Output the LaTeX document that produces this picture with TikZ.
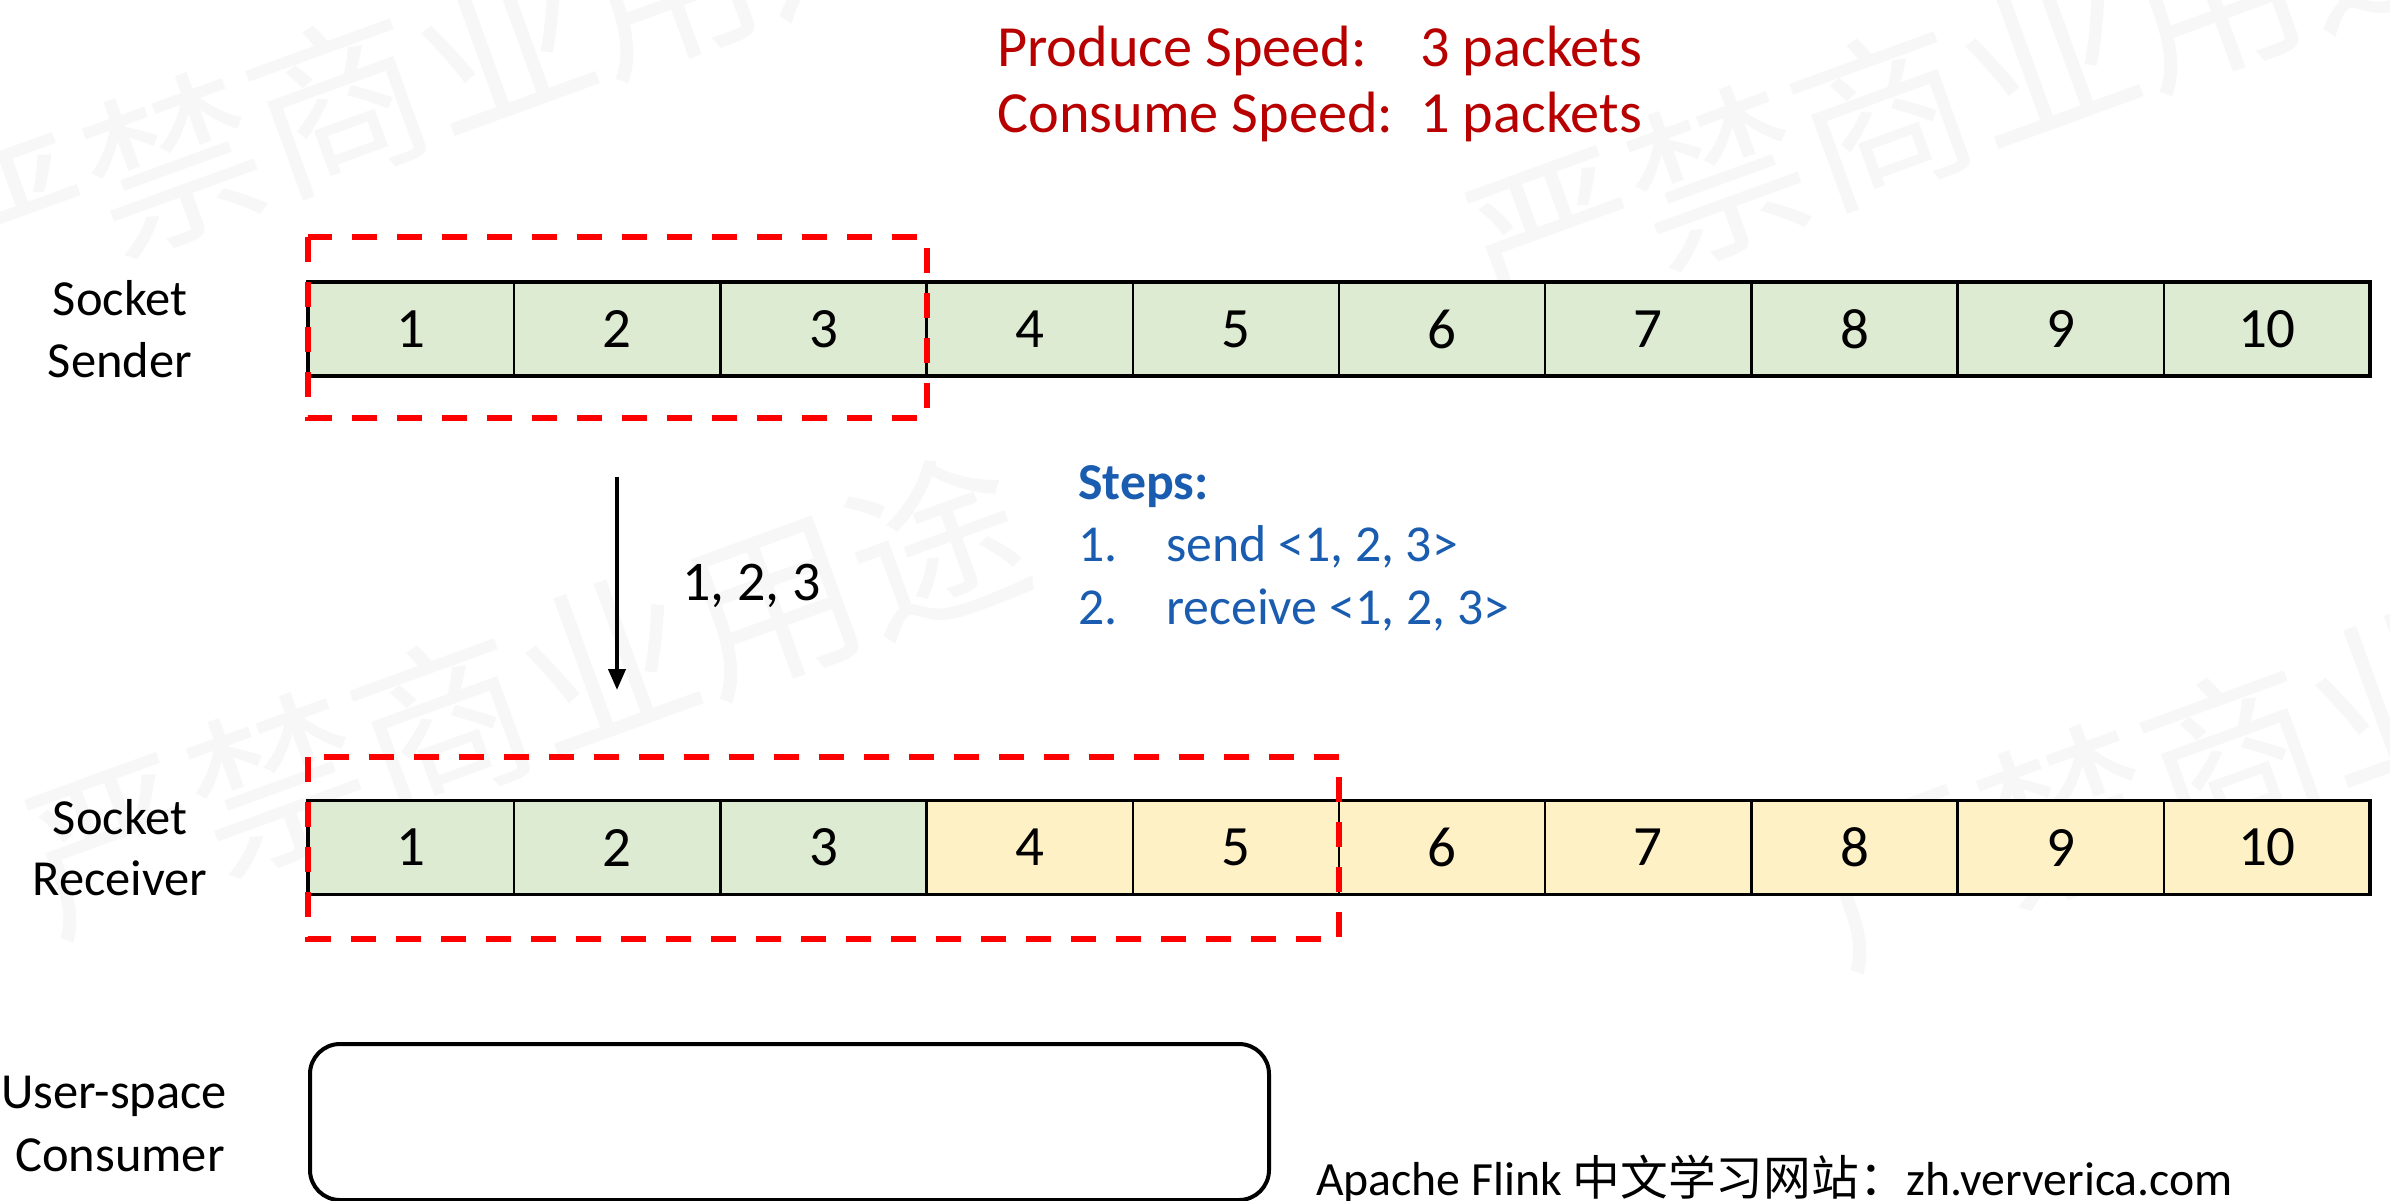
\documentclass[tikz,border=0pt]{standalone}
\usepackage{fontspec}
\setmainfont{Carlito}
\newfontfamily\cjk{Noto Sans CJK SC}
\usetikzlibrary{arrows.meta}
\definecolor{cellgreen}{HTML}{DEEBD3}
\definecolor{cellyellow}{HTML}{FFF1C6}
\definecolor{titlered}{HTML}{B80000}
\definecolor{stepblue}{HTML}{1A5DB0}
\definecolor{wmgray}{HTML}{F7F7F7}
\definecolor{dashred}{HTML}{FF0000}
\begin{document}
\begin{tikzpicture}[x=1pt,y=-1pt,
  cell/.style={draw=black, line width=2.5pt, minimum width=206.2pt, minimum height=94pt, inner sep=0pt, outer sep=0pt, font=\fontsize{57}{68}\selectfont},
  greencell/.style={cell, fill=cellgreen},
  yellowcell/.style={cell, fill=cellyellow},
  rowframe/.style={draw=black, line width=3.5pt},
  redbox/.style={draw=dashred, line width=6pt, dash pattern=on 25pt off 20pt},
  lbl/.style={font=\fontsize{50.5}{62}\selectfont, inner sep=0pt, anchor=base},
  titletxt/.style={font=\fontsize{58.3}{68}\selectfont, text=titlered, inner sep=0pt, anchor=base west},
  stepstxt/.style={font=\fontsize{51.8}{62}\selectfont, text=stepblue, inner sep=0pt, anchor=base west},
  wm/.style={font=\cjk\fontsize{175}{175}\selectfont, text=wmgray, inner sep=0pt, rotate=20},
  flow/.style={draw=black, line width=4pt, -{Triangle[length=21pt,width=17pt]}}
]
\fill[white] (0,0) rectangle (2390,1200);
\useasboundingbox (0,0) rectangle (2390,1200);

% watermarks
\node[wm] (wm1) at (421,73) {严禁商业用途};
\node[wm] (wm2) at (525,693) {严禁商业用途};
\node[wm] (wm3) at (1965,86) {严禁商业用途};
\node[wm] (wm4) at (2315,725) {严禁商业用途};

% title
\node[titletxt] (prodA) at (997,66) {Produce Speed:};
\node[titletxt] (prodB) at (1420,66) {3 packets};
\node[titletxt] (consA) at (997,132) {Consume Speed:};
\node[titletxt] (consB) at (1420,132) {1 packets};

% sender row
\foreach \i in {1,...,10} {
  \node[greencell] (s\i) at ({308+(\i-0.5)*206.2}, 329) {\i};
}
\draw[rowframe] (s1.north west) rectangle (s10.south east);

% receiver row
\foreach \i in {1,2,3} {
  \node[greencell] (r\i) at ({308+(\i-0.5)*206.2}, 847.5) {\i};
}
\foreach \i in {4,...,10} {
  \node[yellowcell] (r\i) at ({308+(\i-0.5)*206.2}, 847.5) {\i};
}
\draw[rowframe] (r1.north west) rectangle (r10.south east);

% dashed windows
\draw[redbox] ([yshift=45pt]s1.north west) rectangle ([yshift=-42pt]s3.south east);
\draw[redbox] ([yshift=44pt]r1.north west) rectangle ([yshift=-44pt]r5.south east);

% row labels
\node[lbl] (sndA) at (120,315) {Socket};
\node[lbl] (sndB) at (120,377) {Sender};
\node[lbl] (rcvA) at (120,834) {Socket};
\node[lbl] (rcvB) at (120,895) {Receiver};
\node[lbl] (usrA) at (114,1108) {User-space};
\node[lbl] (usrB) at (120,1171) {Consumer};

% arrow
\coordinate (atop) at (617,477);
\coordinate (abot) at (617,690);
\draw[flow] (atop) -- (abot);
\node[font=\fontsize{56}{67}\selectfont, inner sep=0pt, anchor=base west] (alab) at (682,600) {1, 2, 3};

% steps
\node[stepstxt, font=\fontsize{51.8}{62}\selectfont\bfseries] (stH) at (1078,499) {Steps:};
\node[stepstxt] (st1n) at (1078,561) {1.};
\node[stepstxt] (st1) at (1166,561) {send <1, 2, 3>};
\node[stepstxt] (st2n) at (1078,624) {2.};
\node[stepstxt] (st2) at (1166,624) {receive <1, 2, 3>};

% user-space consumer box
\node[draw=black, line width=4pt, rounded corners=30pt, minimum width=959pt, minimum height=156pt, inner sep=0pt, anchor=north west] (usr) at (308,1042) {};

% footer
\node[font=\fontsize{47.7}{56}\selectfont, inner sep=0pt, anchor=base west] (foot) at (1316,1195) {Apache Flink {\cjk 中文学习网站：}zh.ververica.com};
\end{tikzpicture}
\end{document}
